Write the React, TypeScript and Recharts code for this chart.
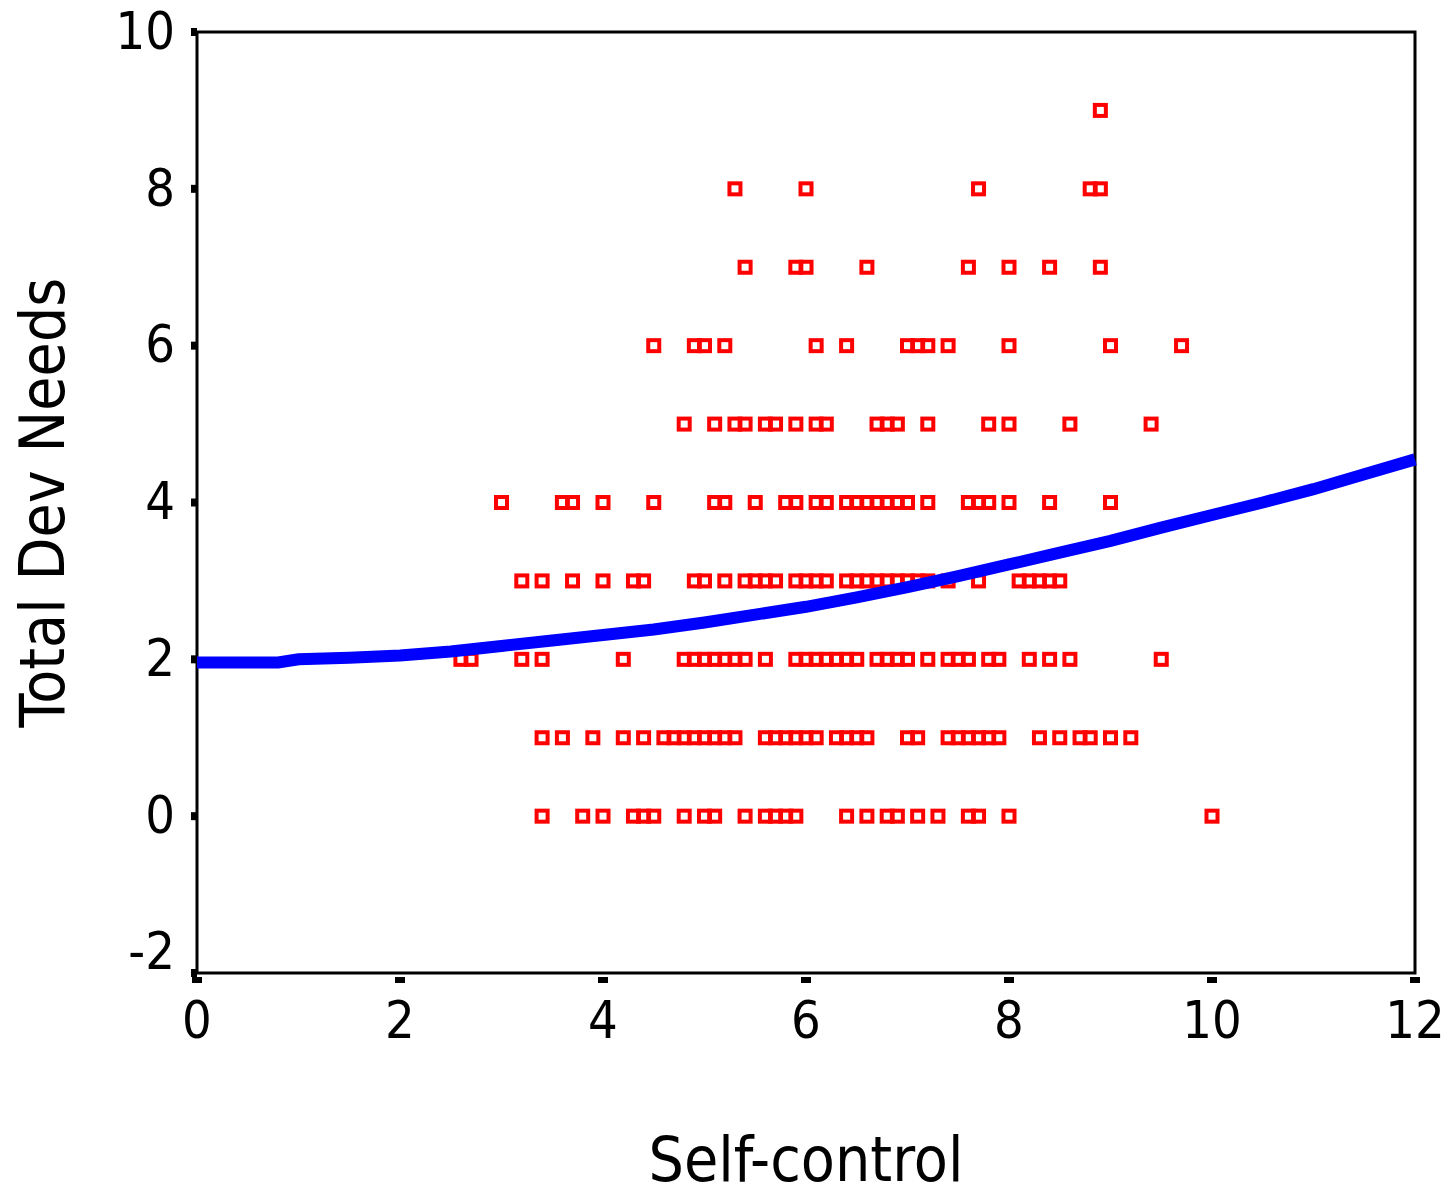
import React from 'react'
import {
    ScatterChart,
    Scatter,
    XAxis,
    YAxis,
    ReferenceArea,
    Label,
} from 'recharts'

// Self-control (x) values for each Total Dev Needs level (y)
const row9 = [8.9]
const row8 = [5.3, 6.0, 7.7, 8.8, 8.9]
const row7 = [5.4, 5.9, 6.0, 6.6, 7.6, 8.0, 8.4, 8.9]
const row6 = [4.5, 4.9, 5.0, 5.2, 6.1, 6.4, 7.0, 7.1, 7.2, 7.4, 8.0, 9.0, 9.7]
const row5 = [4.8, 5.1, 5.3, 5.4, 5.6, 5.7, 5.9, 6.1, 6.2, 6.7, 6.8, 6.9, 7.2, 7.8, 8.0, 8.6, 9.4]
const row4 = [3.0, 3.6, 3.7, 4.0, 4.5, 5.1, 5.2, 5.5, 5.8, 5.9, 6.1, 6.2, 6.4, 6.5, 6.6, 6.7, 6.8, 6.9, 7.0, 7.2, 7.6, 7.7, 7.8, 8.0, 8.4, 9.0]
const row3 = [3.2, 3.4, 3.7, 4.0, 4.3, 4.4, 4.9, 5.0, 5.2, 5.4, 5.5, 5.6, 5.7, 5.9, 6.0, 6.1, 6.2, 6.4, 6.5, 6.6, 6.7, 6.8, 6.9, 7.0, 7.1, 7.2, 7.4, 7.7, 8.1, 8.2, 8.3, 8.4, 8.5]
const row2 = [2.6, 2.7, 3.2, 3.4, 4.2, 4.8, 4.9, 5.0, 5.1, 5.2, 5.3, 5.4, 5.6, 5.9, 6.0, 6.1, 6.2, 6.3, 6.4, 6.5, 6.7, 6.8, 6.9, 7.0, 7.2, 7.4, 7.5, 7.6, 7.8, 7.9, 8.2, 8.4, 8.6, 9.5]
const row1 = [3.4, 3.6, 3.9, 4.2, 4.4, 4.6, 4.7, 4.8, 4.9, 5.0, 5.1, 5.2, 5.3, 5.6, 5.7, 5.8, 5.9, 6.0, 6.1, 6.3, 6.4, 6.5, 6.6, 7.0, 7.1, 7.4, 7.5, 7.6, 7.7, 7.8, 7.9, 8.3, 8.5, 8.7, 8.8, 9.0, 9.2]
const row0 = [3.4, 3.8, 4.0, 4.3, 4.4, 4.5, 4.8, 5.0, 5.1, 5.4, 5.6, 5.7, 5.8, 5.9, 6.4, 6.6, 6.8, 6.9, 7.1, 7.3, 7.6, 7.7, 8.0, 10.0]

// fitted curve
const curveX = [0, 0.5, 0.8, 1, 1.5, 2, 2.5, 3, 3.5, 4, 4.5, 5, 5.5, 6, 6.5, 7, 7.5, 8, 8.5, 9, 9.5, 10, 10.5, 11, 11.5, 12]
const curveY = [1.96, 1.96, 1.96, 2.0, 2.02, 2.05, 2.1, 2.17, 2.24, 2.31, 2.38, 2.47, 2.57, 2.67, 2.79, 2.92, 3.06, 3.21, 3.36, 3.51, 3.68, 3.84, 4.0, 4.17, 4.36, 4.55]

const xTicks = [0, 2, 4, 6, 8, 10, 12]
const yTicks = [-2, 0, 2, 4, 6, 8, 10]

const rows: [number, number[]][] = [
    [0, row0], [1, row1], [2, row2], [3, row3], [4, row4],
    [5, row5], [6, row6], [7, row7], [8, row8], [9, row9],
]
const points = rows.flatMap(([y, xs]) => xs.map((x) => ({ x, y })))
const curve = curveX.map((x, i) => ({ x, y: curveY[i] }))

const FONT = '"DejaVu Sans Condensed", "DejaVu Sans", sans-serif'

const YTick = (props: any) => {
    const { x, y, payload } = props
    const shift = payload.value === -2 ? -23 : -2
    return (
        <g>
            <rect x={x - 6} y={y - 4} width={6} height={8} fill="#000" />
            <text x={x - 22} y={y + shift} dy="0.36em" textAnchor="end" fontSize={52} fontFamily={FONT} fill="#000">
                {payload.value}
            </text>
        </g>
    )
}

const XTick = (props: any) => {
    const { x, y, payload } = props
    return (
        <g>
            <rect x={x - 5} y={y + 4} width={10} height={6} fill="#000" />
            <text x={x} y={y + 65} textAnchor="middle" fontSize={52} fontFamily={FONT} fill="#000">
                {payload.value}
            </text>
        </g>
    )
}

const Square = (props: any) => {
    const { cx, cy } = props
    return <rect x={cx - 5.5} y={cy - 5.5} width={11} height={11} fill="none" stroke="#ff0000" strokeWidth={4} />
}

export default function App() {
    return (
        <div style={{ position: 'absolute', left: 0, top: 0, width: 1449, height: 1186, background: '#fff' }}>
            <ScatterChart width={1449} height={1186} margin={{ top: 32, right: 34, left: 0, bottom: 0 }}>
                <XAxis
                    type="number"
                    dataKey="x"
                    domain={[0, 12]}
                    ticks={xTicks}
                    interval={0}
                    height={213}
                    axisLine={false}
                    tickLine={false}
                    tickSize={0}
                    tickMargin={0}
                    tick={<XTick />}
                >
                    <Label
                        content={({ viewBox }: any) => (
                            <text x={viewBox.x + viewBox.width / 2} y={viewBox.y + 208} textAnchor="middle" fontSize={62} fontFamily={FONT} fill="#000">
                                Self-control
                            </text>
                        )}
                    />
                </XAxis>
                <YAxis
                    type="number"
                    dataKey="y"
                    domain={[-2, 10]}
                    ticks={yTicks}
                    interval={0}
                    width={197}
                    axisLine={false}
                    tickLine={false}
                    tickSize={0}
                    tickMargin={0}
                    tick={<YTick />}
                >
                    <Label
                        content={({ viewBox }: any) => {
                            const cx = 42
                            const cy = viewBox.y + viewBox.height / 2
                            return (
                                <text x={cx} y={cy} dy="0.36em" textAnchor="middle" fontSize={62} fontFamily={FONT} fill="#000" transform={`rotate(-90, ${cx}, ${cy})`}>
                                    Total Dev Needs
                                </text>
                            )
                        }}
                    />
                </YAxis>
                <ReferenceArea x1={0} x2={12} y1={-2} y2={10} fill="none" stroke="#000" strokeWidth={3} ifOverflow="visible" />
                <Scatter data={points} shape={<Square />} isAnimationActive={false} />
                <Scatter
                    data={curve}
                    shape={() => <g />}
                    line={{ stroke: '#0000ff', strokeWidth: 12 }}
                    lineJointType="linear"
                    isAnimationActive={false}
                />
            </ScatterChart>
        </div>
    )
}
